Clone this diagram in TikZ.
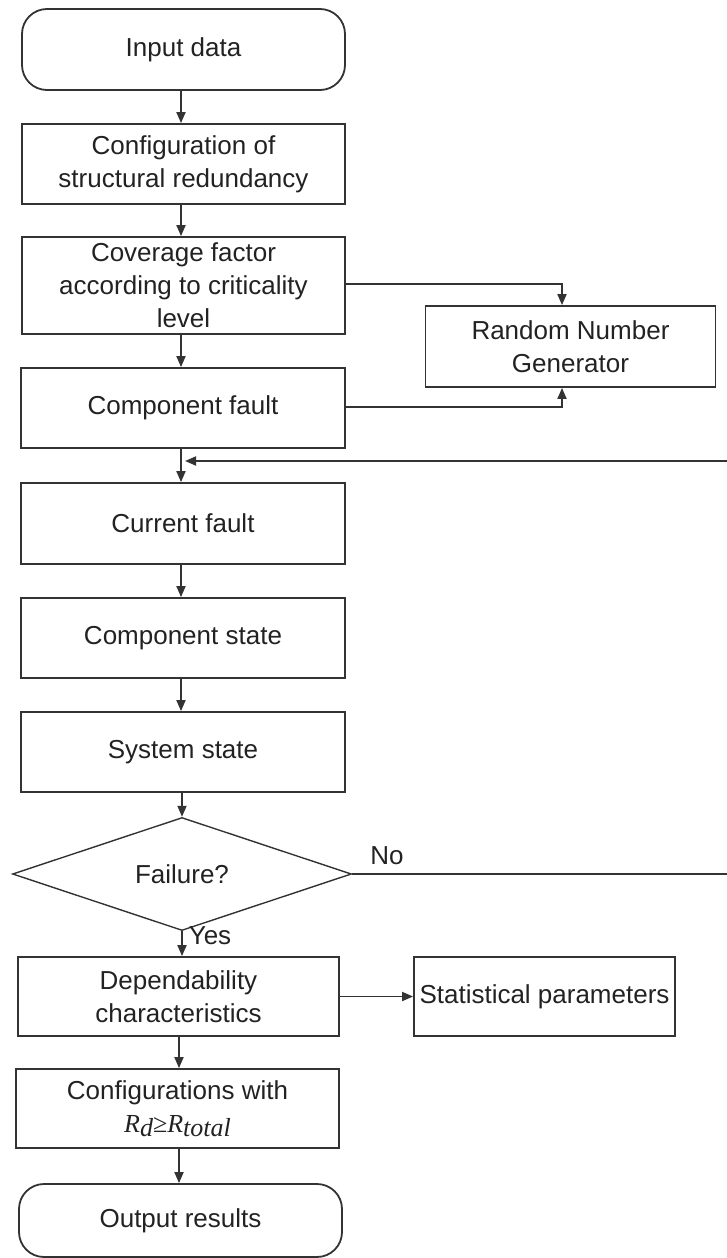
\documentclass[tikz,border=0pt]{standalone}
\usepackage{fontspec}
\setmainfont{Liberation Sans}
\newfontfamily\formfont{Liberation Serif}
\usetikzlibrary{shapes.geometric,arrows.meta}
\definecolor{ink}{HTML}{222222}
\definecolor{edge}{HTML}{333333}
\begin{document}
\begin{tikzpicture}[x=0.5pt,y=-0.5pt,
  every node/.style={text=ink,font=\fontsize{13}{16.5}\selectfont},
  box/.style={draw=edge,line width=0.9pt,rectangle,align=center,inner sep=0pt},
  term/.style={box,rounded corners=12.5pt},
  decis/.style={draw=edge,line width=0.7pt,diamond,inner sep=0pt,align=center},
  conn/.style={draw=edge,line width=0.9pt,-{Triangle[length=5.5pt,width=4.5pt]}},
  plain/.style={draw=edge,line width=0.9pt},
  lbl/.style={inner sep=0pt}]
\useasboundingbox (0,0) rectangle (727,1258);
\coordinate (mx) at (181,0);
\coordinate (my) at (179,0);
\node[term,minimum width=161.5pt,minimum height=40.5pt] (in) at (183.5,49.5) {Input data};
\node[box,minimum width=161.5pt,minimum height=40pt] (cfg) at (183.5,164) {Configuration of\\structural redundancy};
\node[box,minimum width=161.5pt,minimum height=48.5pt] (cov) at (183.5,285.5) {Coverage factor\\according to criticality\\level};
\node[box,minimum width=145pt,minimum height=40.5pt] (rng) at (570.5,346.5) {Random Number\\Generator};
\node[box,minimum width=162pt,minimum height=40pt] (cf) at (183,408) {Component fault};
\node[box,minimum width=162pt,minimum height=40.5pt] (cur) at (183,523.5) {Current fault};
\node[box,minimum width=162pt,minimum height=40pt] (cs) at (183,638) {Component state};
\node[box,minimum width=162pt,minimum height=40pt] (ss) at (183,752) {System state};
\node[decis,minimum width=169.5pt,minimum height=48pt] (dia) at (182,874) {Failure?};
\node[box,minimum width=160.5pt,minimum height=39.5pt] (dep) at (178.5,996.5) {Dependability\\characteristics};
\node[box,minimum width=130.5pt,minimum height=39.5pt] (stat) at (544.5,996.5) {Statistical parameters};
\node[box,minimum width=161.5pt,minimum height=39.5pt] (conf) at (177.5,1108.5) {Configurations with\\{\formfont\itshape R\raisebox{-0.35ex}{d}\upshape ≥\itshape R\raisebox{-0.35ex}{total}}};
\node[term,minimum width=161.5pt,minimum height=36.5pt] (out) at (180.5,1220.5) {Output results};
\node[lbl] (no) at (387,856) {No};
\node[lbl] (yes) at (210,936) {Yes};
\coordinate (r1) at (727,874);
\coordinate (r2) at (727,461);
\coordinate (lp) at (185,461);
\coordinate (k1) at (562,284);
\coordinate (k2) at (562,407);
% main flow
\draw[conn] (in.south -| mx) -- (cfg.north -| mx);
\draw[conn] (cfg.south -| mx) -- (cov.north -| mx);
\draw[conn] (cov.south -| mx) -- (cf.north -| mx);
\draw[conn] (cf.south -| mx) -- (cur.north -| mx);
\draw[conn] (cur.south -| mx) -- (cs.north -| mx);
\draw[conn] (cs.south -| mx) -- (ss.north -| mx);
\draw[conn] (ss.south -| dia.north) -- (dia.north);
\draw[conn] (dia.south) -- (dep.north -| dia.south);
\draw[conn] (dep.south -| my) -- (conf.north -| my);
\draw[conn] (conf.south -| my) -- (out.north -| my);
\draw[conn] (dep.east) -- (stat.west);
% random number generator
\draw[conn] (cov.east |- k1) -- (k1) -- (rng.north -| k1);
\draw[conn] (cf.east |- k2) -- (k2) -- (rng.south -| k2);
% loop back
\draw[plain] (dia.east) -- (r1);
\draw[conn] (r2) -- (lp);
\end{tikzpicture}
\end{document}
